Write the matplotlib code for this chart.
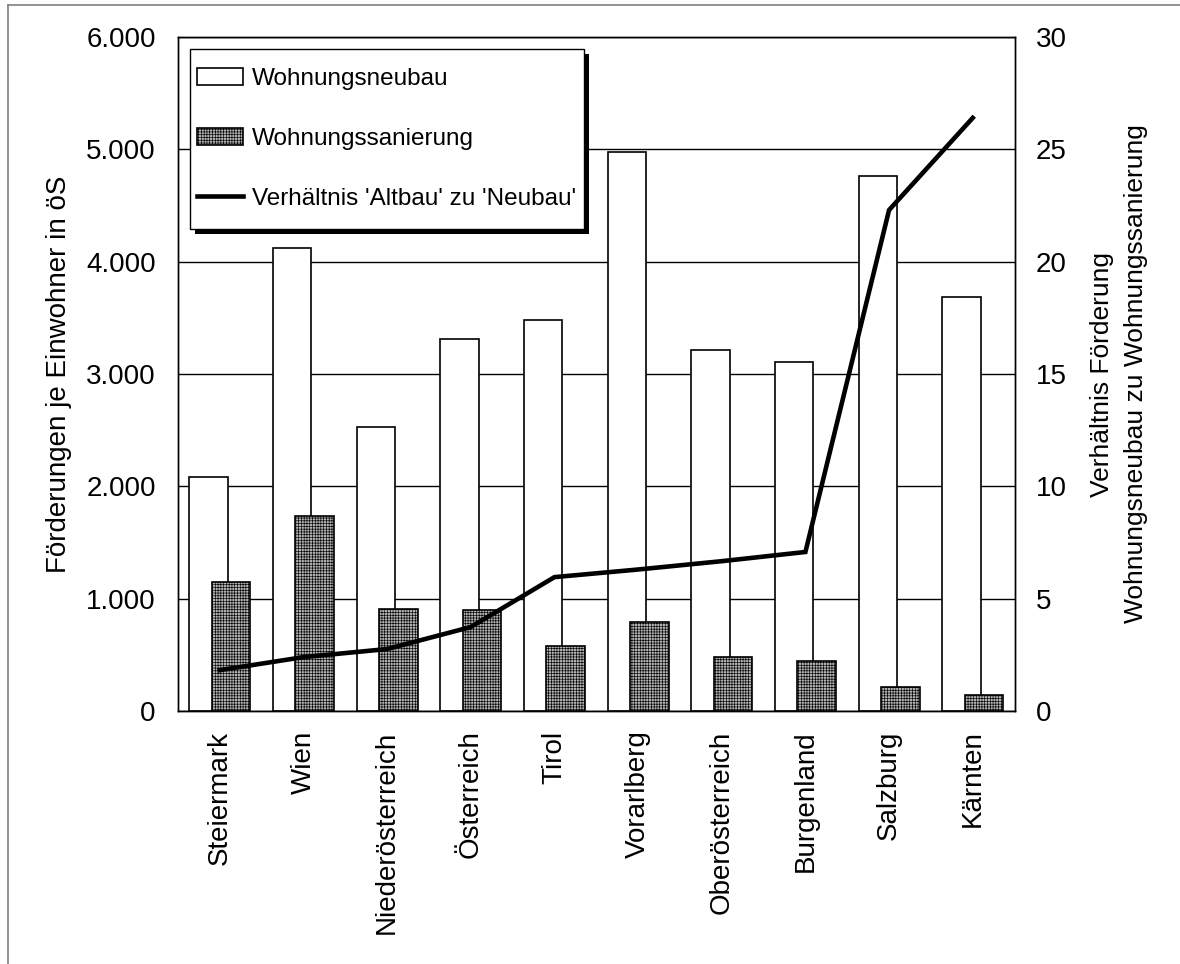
import numpy as np
import matplotlib
matplotlib.use("Agg")
import matplotlib.pyplot as plt
from matplotlib.patches import Rectangle
from matplotlib.lines import Line2D
from matplotlib.transforms import IdentityTransform
from matplotlib.ticker import FuncFormatter

plt.rcParams['font.family'] = ['Liberation Sans', 'DejaVu Sans']
plt.rcParams['hatch.linewidth'] = 0.45

# data
laender = ['Steiermark', 'Wien', 'Niederösterreich', 'Österreich', 'Tirol',
           'Vorarlberg', 'Oberösterreich', 'Burgenland', 'Salzburg', 'Kärnten']
neubau = [2080, 4120, 2530, 3310, 3480, 4975, 3210, 3110, 4760, 3690]
sanierung = [1150, 1740, 910, 900, 580, 795, 481, 442, 216, 140]
verhaeltnis = [1.82, 2.4, 2.76, 3.74, 5.96, 6.3, 6.67, 7.08, 22.3, 26.4]

x = np.arange(len(laender))

fig = plt.figure(figsize=(11.8, 9.64), dpi=100)
ax = fig.add_axes([0.1508, 0.2624, 0.7090, 0.6992])
ax2 = ax.twinx()

ax.set_zorder(1)
ax2.set_zorder(2)
ax2.patch.set_visible(False)

ax.bar(x - 0.135, neubau, width=0.46, facecolor='white', edgecolor='black',
       linewidth=1.2, zorder=2, label='Wohnungsneubau')
ax.bar(x + 0.135, sanierung, width=0.46, facecolor='#b4b4b4', edgecolor='black',
       hatch='++++++', linewidth=1.2, zorder=3, label='Wohnungssanierung')
ax2.plot(x, verhaeltnis, color='black', linewidth=3.3, solid_joinstyle='miter',
         label="Verhältnis 'Altbau' zu 'Neubau'")

ax.set_xlim(-0.5, len(laender) - 0.5)
ax.set_ylim(0, 6000)
ax.set_yticks(np.arange(0, 6001, 1000))
ax.yaxis.set_major_formatter(FuncFormatter(lambda v, p: f"{int(v):,}".replace(',', '.')))
ax2.set_ylim(0, 30)
ax2.set_yticks(np.arange(0, 31, 5))

ax.yaxis.grid(True, color='black', linewidth=1.0, zorder=0)
ax.set_axisbelow(True)

ax.set_xticks(x)
ax.set_xticklabels(laender, rotation=90, fontsize=20)
ax.tick_params(axis='x', length=0, pad=14)
ax.tick_params(axis='y', length=0, pad=16, labelsize=20)
ax2.tick_params(axis='y', length=0, pad=15, labelsize=20)

for a in (ax, ax2):
    for s in a.spines.values():
        s.set_color('black')
        s.set_linewidth(1.0)

ax.set_ylabel('Förderungen je Einwohner in öS', fontsize=20, labelpad=10)
ax2.set_ylabel('Verhältnis Förderung\nWohnungsneubau zu Wohnungssanierung',
               fontsize=19, labelpad=17, linespacing=1.55)

h1, l1 = ax.get_legend_handles_labels()
h2, l2 = ax2.get_legend_handles_labels()
leg = ax2.legend(h1 + h2, l1 + l2, loc='upper left', bbox_to_anchor=(0.0143, 0.9644),
                 borderaxespad=0, fontsize=17.5, frameon=False, handlelength=1.9,
                 handletextpad=0.37, labelspacing=1.55, borderpad=0.3)

# legend frame (taller than the default padding) with a black shadow
fig.canvas.draw()
bb = leg.get_window_extent()
extra = 12
frame = Rectangle((bb.x0, bb.y0 - extra), bb.width, bb.height + 2 * extra,
                  transform=IdentityTransform(), facecolor='white',
                  edgecolor='black', linewidth=1.0, zorder=leg.get_zorder() - 0.2,
                  clip_on=False)
shadow = Rectangle((bb.x0 + 5, bb.y0 - extra - 5), bb.width, bb.height + 2 * extra,
                   transform=IdentityTransform(), facecolor='black',
                   edgecolor='none', zorder=leg.get_zorder() - 0.4, clip_on=False)
ax2.add_artist(shadow)
ax2.add_artist(frame)

# outer frame lines
fig.add_artist(Line2D([8 / 1180, 1], [1 - 5 / 964, 1 - 5 / 964], color='#808080', linewidth=1.2))
fig.add_artist(Line2D([8 / 1180, 8 / 1180], [0, 1 - 5 / 964], color='#808080', linewidth=1.2))

fig.savefig('out.png', dpi=100, facecolor='white')
